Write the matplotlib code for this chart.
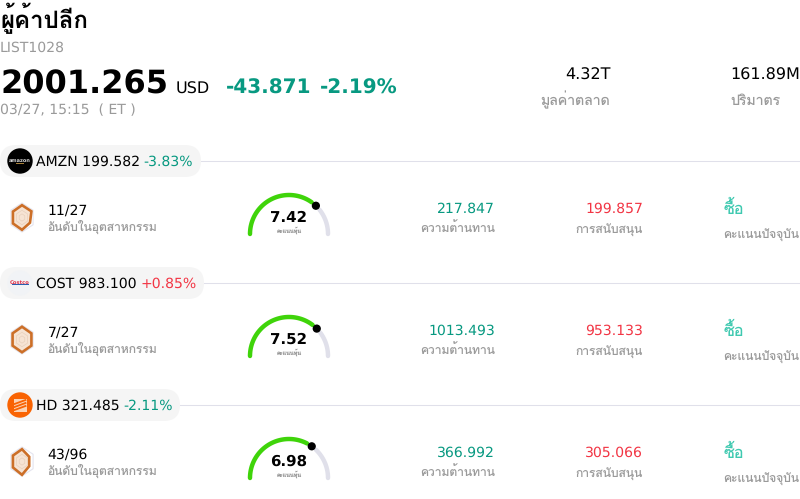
import numpy as np
import matplotlib
matplotlib.use("Agg")
import matplotlib.pyplot as plt
from matplotlib.patches import Circle, FancyBboxPatch, Polygon, Rectangle

plt.rcParams['font.family'] = ['DejaVu Sans', 'Loma']
plt.rcParams['text.hinting'] = 'none'

##### DATA #####

title = "ผู้ค้าปลีก"
code = "LIST1028"
price = "2001.265"
currency = "USD"
change = "-43.871"
change_pct = "-2.19%"
timestamp = "03/27, 15:15  ( ET )"
market_cap = "4.32T"
volume = "161.89M"

tickers = ["AMZN", "COST", "HD"]
prices = ["199.582", "983.100", "321.485"]
pcts = ["-3.83%", "+0.85%", "-2.11%"]
ranks = ["11/27", "7/27", "43/96"]
scores = [7.42, 7.52, 6.98]
resistance = ["217.847", "1013.493", "366.992"]
support = ["199.857", "953.133", "305.066"]
rating = ["ซื้อ", "ซื้อ", "ซื้อ"]
pill_widths = [201, 204, 180]
# radar shape of each stock, six spokes 0-1, clockwise from the top
radars = [[0.85, 0.85, 0.72, 0.85, 0.82, 0.82],
          [0.88, 0.85, 0.85, 0.88, 0.85, 0.85],
          [0.85, 0.65, 0.65, 0.92, 0.82, 0.82]]

GREEN = "#089981"
RED = "#f23645"
GREY = "#9a9a9a"
LINE = "#e0e0ea"


##### HELPERS #####

def put(x, y, s, px, color="black", ha="left", weight="normal", **kw):
    # sizes come in css pixels, figure is 100 dpi
    return ax.text(x, y, s, fontsize=px * 0.72, color=color, ha=ha, va="baseline",
                   fontweight=weight, **kw)


def drawGauge(cx, cy, value):
    r = 39
    end = 180 - value / 10 * 180
    back = np.radians(np.linspace(end - 8, 0, 40))
    ax.plot(cx + r * np.cos(back), cy - r * np.sin(back), color="#e0e0ea", lw=3.2,
            solid_capstyle="round", zorder=2)
    front = np.radians(np.linspace(180, end + 8, 80))
    ax.plot(cx + r * np.cos(front), cy - r * np.sin(front), color="#3fd40a", lw=3.2,
            solid_capstyle="round", zorder=3)
    a = np.radians(end)
    ax.add_patch(Circle((cx + r * np.cos(a), cy - r * np.sin(a)), 3.4, color="black", zorder=4))
    put(cx, cy - 12, f"{value:.2f}", 15, ha="center", weight="bold")
    put(cx, cy - 1.5, "คะแนนหุ้น", 5.5, color=GREY, ha="center")


def drawRadar(cx, cy, shape):
    angles = np.radians(90 - np.arange(6) * 60)
    rx, ry = 12.8, 14.5
    ax.add_patch(Polygon(np.c_[cx + rx * np.cos(angles), cy - ry * np.sin(angles)],
                         closed=True, fc="white", ec="#e4e4ee", lw=0.8, zorder=2))
    s = np.array(shape)
    ax.add_patch(Polygon(np.c_[cx + s * rx * np.cos(angles), cy - s * ry * np.sin(angles)],
                         closed=True, fc="#f6e3d3", ec="#cc6f28", lw=1.9, zorder=3))
    for f in [0.25, 0.5]:
        ax.add_patch(Polygon(np.c_[cx + f * rx * np.cos(angles), cy - f * ry * np.sin(angles)],
                             closed=True, fill=False, ec="#e8d0bc", lw=0.5, zorder=4))


def drawLogo(cx, cy, name):
    if name == "AMZN":
        ax.add_patch(Circle((cx, cy), 12, color="black", zorder=3))
        put(cx, cy + 1, "amazon", 5, color="#d8d8d8", ha="center", weight="bold", zorder=4)
        ax.add_patch(Rectangle((cx - 4, cy + 2), 8, 0.9, color="#a8803a", lw=0, zorder=4))
    elif name == "COST":
        ax.add_patch(Circle((cx, cy), 12, color="#f1f3f6", zorder=3))
        put(cx, cy + 1, "Costco", 5.2, color="#e0334a", ha="center", weight="bold", zorder=4)
        ax.add_patch(Rectangle((cx - 8.5, cy + 1.2), 17, 1.2, color="#2a5fb0", lw=0, zorder=4))
    else:
        ax.add_patch(Circle((cx, cy), 12, color="#f96302", zorder=3))
        ax.add_patch(Rectangle((cx - 6.5, cy - 6.5), 13, 13, color="#fbd3b4", lw=0, zorder=4))
        for k in [-3, 0, 3]:
            ax.plot([cx - 5.5, cx + 5.5], [cy + k + 2, cy + k - 2], color="#f96302", lw=1.3, zorder=5)


##### FIGURE #####

fig = plt.figure(figsize=(8, 4.99), dpi=100)
ax = fig.add_axes([0, 0, 1, 1])
ax.set_xlim(0, 800)
ax.set_ylim(499, 0)
ax.axis("off")

# header block
put(0, 28, title, 24, weight="bold")
put(0, 52, code, 14, color=GREY)
put(0, 94, price, 32, weight="bold")
put(176, 93.6, currency, 16)
put(226, 93.6, change, 20, color=GREEN, weight="bold")
put(320, 93.6, change_pct, 20, color=GREEN, weight="bold")
put(0, 114, timestamp, 14, color=GREY)

put(610.5, 79.6, market_cap, 16, ha="right")
put(610, 105, "มูลค่าตลาด", 14, color=GREY, ha="right")
put(800, 79.6, volume, 16, ha="right")
put(730, 105, "ปริมาตร", 14, color=GREY)

# one block per stock, 122 px apart
for i, name in enumerate(tickers):
    top = 122 * i

    # ticker pill and divider
    ax.plot([0, 800], [161.2 + top, 161.2 + top], color=LINE, lw=0.75, zorder=1)
    ax.add_patch(FancyBboxPatch((0, 145 + top), pill_widths[i], 32,
                                boxstyle="round,pad=0,rounding_size=16",
                                fc="#f5f5f5", ec="none", zorder=2))
    drawLogo(20, 161 + top, name)
    label = put(36, 166 + top, f"{name} {prices[i]}", 14, zorder=5)
    fig.canvas.draw()
    bb = label.get_window_extent()
    pct_color = RED if pcts[i].startswith("+") else GREEN
    put(bb.x1 + 3.5, 166 + top, pcts[i], 14, color=pct_color, zorder=5)

    # rank
    drawRadar(22, 217.5 + top, radars[i])
    put(47.5, 215 + top, ranks[i], 14)
    put(47.5, 230.6 + top, "อันดับในอุตสาหกรรม", 12, color=GREY)

    # gauge
    drawGauge(289, 234 + top, scores[i])

    # levels
    put(495.3, 213 + top, resistance[i], 14, color=GREEN, ha="right")
    put(495, 232.6 + top, "ความต้านทาน", 12, color=GREY, ha="right")
    put(643.3, 213 + top, support[i], 14, color=RED, ha="right")
    put(643, 232.6 + top, "การสนับสนุน", 12, color=GREY, ha="right")

    # rating
    put(724, 214 + top, rating[i], 16, color="#3fc9b0")
    put(723.6, 237.4 + top, "คะแนนปัจจุบัน", 12, color=GREY)

fig.savefig("out.png", dpi=100)
